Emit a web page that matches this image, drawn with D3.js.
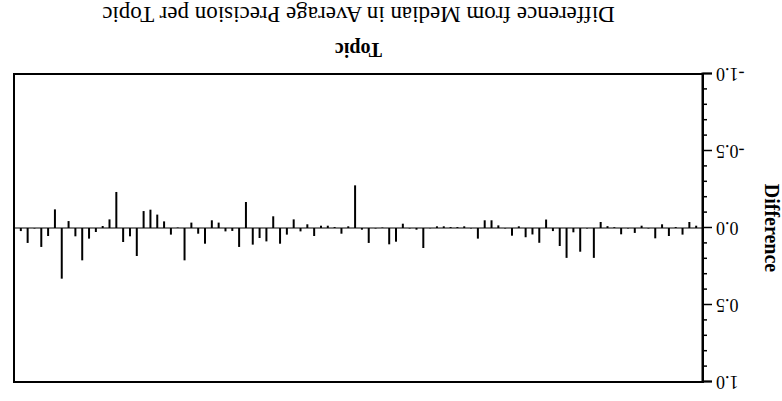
<!DOCTYPE html>
<html>
<head>
<meta charset="utf-8">
<script src="https://cdn.jsdelivr.net/npm/d3@7"></script>
<style>
  html, body { margin: 0; padding: 0; background: #fff; }
  svg { display: block; }
</style>
</head>
<body>
<svg id="chart" width="782" height="401"></svg>
<script>
// Difference from median AP, topics 1..100 (original, un-rotated order)
const topics = d3.range(1, 101);
const differences = [
  -0.015, -0.039, 0.043, -0.006, 0.052, -0.024, 0.067, 0.003, -0.015, 0.032,
  0.003, 0.041, -0.005, -0.012, -0.039, 0.194, 0.003, 0.154, 0.028, 0.194,
  0.117, 0.020, -0.055, 0.096, 0.042, 0.060, -0.011, 0.050, 0.003, -0.017,
  -0.050, -0.050, 0.069, 0.003, -0.011, -0.006, -0.006, -0.011, -0.011, 0.002,
  0.130, 0.011, 0.003, -0.028, 0.089, 0.106, -0.003, 0.003, 0.097, 0.011,
  -0.277, -0.011, 0.037, -0.006, -0.015, -0.015, 0.052, -0.024, 0.022, -0.056,
  0.043, 0.102, -0.076, 0.087, 0.065, 0.108, -0.169, 0.123, 0.019, 0.022,
  -0.035, -0.050, 0.102, 0.037, -0.035, 0.210, -0.003, 0.043, -0.043, -0.087,
  -0.119, -0.110, 0.182, 0.054, 0.091, -0.234, -0.056, -0.013, 0.026, 0.069,
  0.210, 0.054, -0.045, 0.329, -0.121, 0.052, 0.123, 0.003, 0.097, 0.020
];
const yTicks = [-1.0, -0.5, 0.0, 0.5, 1.0];
const yTickLabels = ["-1.0", "-0.5", "0.0", "0.5", "1.0"];
const yMinorTicks = d3.range(-10, 11).map(d => d / 10);

const titleText = "Difference from Median in Average Precision per Topic";
const xLabel = "Topic";
const yLabel = "Difference";

const W = 782, H = 401;
const plot = { left: 79, right: 768, top: 19, bottom: 327 };

const svg = d3.select("#chart");
// whole chart is shown rotated by 180 degrees
const g = svg.append("g").attr("transform", `rotate(180, ${W / 2}, ${H / 2})`);

const x = d3.scaleLinear().domain([0, 101]).range([plot.left, plot.right]);
const y = d3.scaleLinear().domain([-1, 1]).range([plot.bottom, plot.top]);

const font = "'Liberation Serif', 'Times New Roman', serif";

// frame
g.append("rect")
  .attr("x", plot.left).attr("y", plot.top)
  .attr("width", plot.right - plot.left).attr("height", plot.bottom - plot.top)
  .attr("fill", "none").attr("stroke", "#000").attr("stroke-width", 2);

// zero line
g.append("line")
  .attr("x1", plot.left).attr("x2", plot.right)
  .attr("y1", y(0)).attr("y2", y(0))
  .attr("stroke", "#000").attr("stroke-width", 1);

// bars
g.append("g").selectAll("line")
  .data(differences)
  .join("line")
  .attr("x1", (d, i) => x(topics[i])).attr("x2", (d, i) => x(topics[i]))
  .attr("y1", y(0)).attr("y2", d => y(d))
  .attr("stroke", "#000").attr("stroke-width", 2);

// y axis: major ticks with labels, minor ticks
const axisMajor = d3.axisLeft(y).tickValues(yTicks)
  .tickFormat((d, i) => yTickLabels[i])
  .tickSize(9).tickPadding(4);
const ax = g.append("g").attr("transform", `translate(${plot.left},0)`).call(axisMajor);
ax.select(".domain").attr("stroke-width", 2);
ax.selectAll(".tick line").attr("stroke-width", 1.5);
ax.selectAll("text").attr("font-family", font).attr("font-size", 18).attr("fill", "#000");

const axisMinor = d3.axisLeft(y).tickValues(yMinorTicks.filter(v => !yTicks.some(t => Math.abs(t - v) < 1e-9)))
  .tickSize(4).tickFormat("");
const axm = g.append("g").attr("transform", `translate(${plot.left},0)`).call(axisMinor);
axm.select(".domain").remove();
axm.selectAll(".tick line").attr("stroke-width", 1.5);

// axis titles
g.append("text")
  .attr("x", (plot.left + plot.right) / 2).attr("y", 358)
  .attr("text-anchor", "middle")
  .attr("font-family", font).attr("font-weight", "bold").attr("font-size", 20)
  .text(xLabel);

g.append("text")
  .attr("transform", `translate(17, ${(plot.top + plot.bottom) / 2}) rotate(-90)`)
  .attr("text-anchor", "middle")
  .attr("font-family", font).attr("font-weight", "bold").attr("font-size", 20)
  .text(yLabel);

// chart title
g.append("text")
  .attr("x", (plot.left + plot.right) / 2).attr("y", 394)
  .attr("text-anchor", "middle")
  .attr("font-family", font).attr("font-size", 23)
  .text(titleText);
</script>
</body>
</html>
